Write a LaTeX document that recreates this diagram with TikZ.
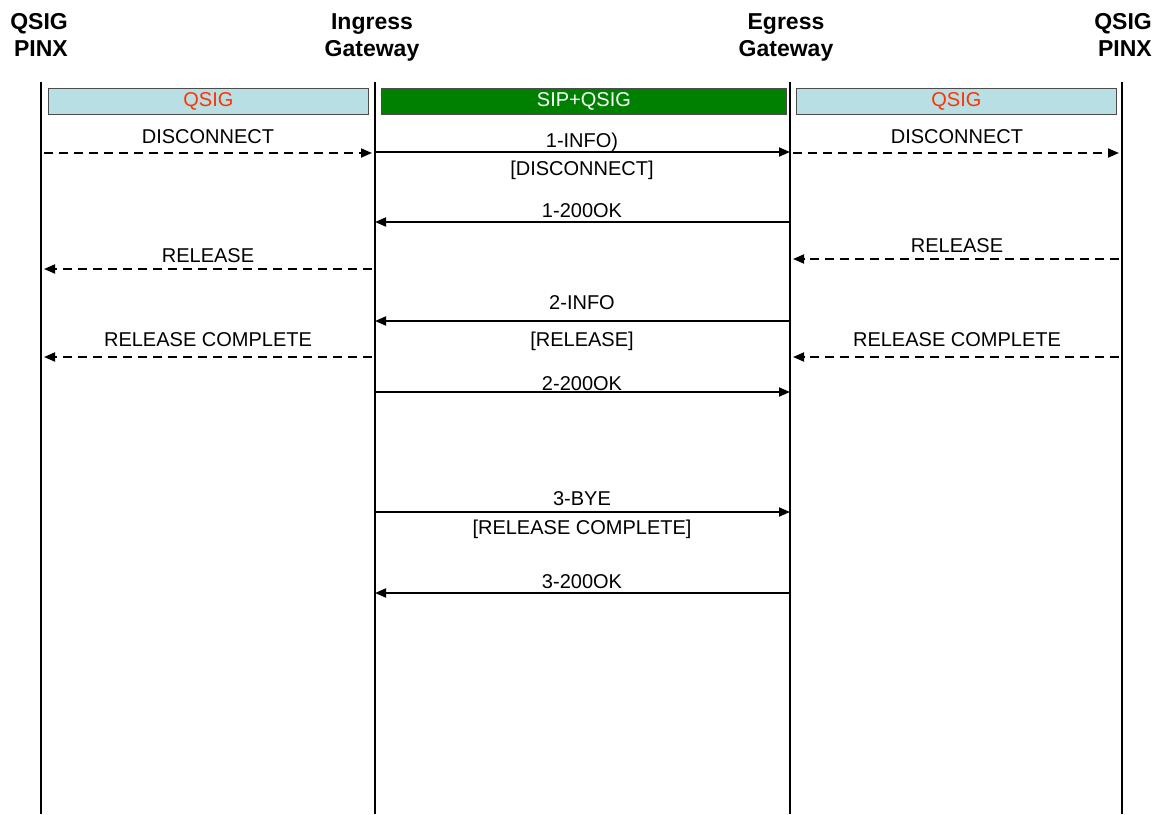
\documentclass[tikz,border=0pt]{standalone}
\usepackage{fontspec}
\setmainfont{Liberation Sans}
\usetikzlibrary{arrows.meta}
\definecolor{qsigfill}{RGB}{184,223,227}
\definecolor{qsigred}{RGB}{255,51,0}
\definecolor{sipgreen}{RGB}{0,128,0}

\begin{document}
\begin{tikzpicture}[x=1pt,y=-1pt,
  head/.style={font=\fontsize{23}{27}\selectfont\bfseries,inner sep=0pt},
  lane/.style={line width=2.2pt},
  band/.style={draw=black!70,line width=0.8pt,minimum height=26pt,inner sep=0pt,anchor=north west,font=\fontsize{20}{24}\selectfont},
  lbl/.style={font=\fontsize{20}{24}\selectfont,inner sep=0pt,anchor=base},
  sig/.style={line width=1.8pt,-{Triangle[length=11pt,width=9pt]}},
  qs/.style={sig,dash pattern=on 9pt off 6pt,shorten >=3pt,shorten <=3pt}]
\useasboundingbox (0,0) rectangle (1164,814);
% entities
\node[head,align=right,anchor=north east] (pinxA) at (68,13) {QSIG\\PINX};
\node[head,align=center,anchor=north] (ingress) at (372,13) {Ingress\\Gateway};
\node[head,align=center,anchor=north] (egress) at (786,13) {Egress\\Gateway};
\node[head,align=right,anchor=north east] (pinxB) at (1152,13) {QSIG\\PINX};
\coordinate (lA) at (41,82);  \coordinate (lAend) at (41,814);
\coordinate (lB) at (375,82); \coordinate (lBend) at (375,814);
\coordinate (lC) at (790,82); \coordinate (lCend) at (790,814);
\coordinate (lD) at (1122,82); \coordinate (lDend) at (1122,814);
\draw[lane] (lA) -- (lAend);
\draw[lane] (lB) -- (lBend);
\draw[lane] (lC) -- (lCend);
\draw[lane] (lD) -- (lDend);
% protocol bands
\node[band,fill=qsigfill,text=qsigred,minimum width=320pt] (bandA) at (48,88) {QSIG};
\node[band,fill=sipgreen,text=white,minimum width=405pt] (bandB) at (381,88) {SIP+QSIG};
\node[band,fill=qsigfill,text=qsigred,minimum width=320pt] (bandC) at (796,88) {QSIG};
% disconnect
\draw[qs] (lA |- 0,153) -- (lB |- 0,153);
\node[lbl] (discA) at (208,143) {DISCONNECT};
\draw[sig] (lB |- 0,152) -- (lC |- 0,152);
\node[lbl] (info1) at (582,147) {1-INFO)};
\node[lbl] (info1b) at (582,175) {[DISCONNECT]};
\draw[qs] (lC |- 0,153) -- (lD |- 0,153);
\node[lbl] (discB) at (957,143) {DISCONNECT};
\draw[sig] (lC |- 0,222) -- (lB |- 0,222);
\node[lbl] (ok1) at (582,217) {1-200OK};
% release
\draw[qs] (lD |- 0,259) -- (lC |- 0,259);
\node[lbl] (relB) at (957,252) {RELEASE};
\draw[qs] (lB |- 0,269) -- (lA |- 0,269);
\node[lbl] (relA) at (208,262) {RELEASE};
\draw[sig] (lC |- 0,321) -- (lB |- 0,321);
\node[lbl] (info2) at (582,309) {2-INFO};
\node[lbl] (info2b) at (582,346) {[RELEASE]};
% release complete
\draw[qs] (lD |- 0,357) -- (lC |- 0,357);
\node[lbl] (rlcB) at (957,346) {RELEASE COMPLETE};
\draw[qs] (lB |- 0,357) -- (lA |- 0,357);
\node[lbl] (rlcA) at (208,346) {RELEASE COMPLETE};
\draw[sig] (lB |- 0,392) -- (lC |- 0,392);
\node[lbl] (ok2) at (582,390) {2-200OK};
% bye
\draw[sig] (lB |- 0,512) -- (lC |- 0,512);
\node[lbl] (bye3) at (582,505) {3-BYE};
\node[lbl] (bye3b) at (582,534) {[RELEASE COMPLETE]};
\draw[sig] (lC |- 0,593) -- (lB |- 0,593);
\node[lbl] (ok3) at (582,588) {3-200OK};
\end{tikzpicture}
\end{document}
